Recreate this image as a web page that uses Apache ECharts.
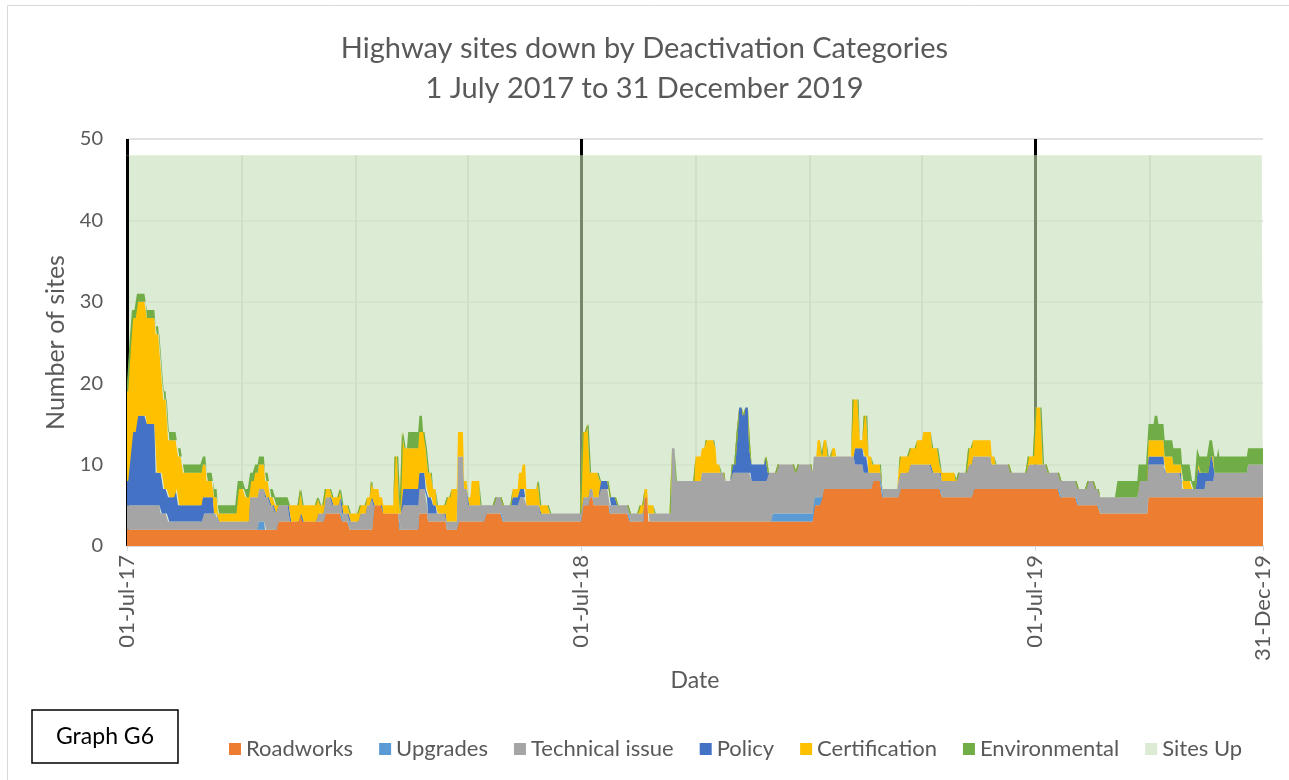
<!DOCTYPE html>
<html>
<head>
<meta charset="utf-8">
<style>
  html, body { margin: 0; background: #fff; }
  #chart { width: 1289px; height: 780px; }
</style>
</head>
<body>
<div id="chart"></div>
<script src="https://cdn.jsdelivr.net/npm/echarts@6/dist/echarts.min.js"></script>
<script>
var seriesNames = ['Roadworks', 'Upgrades', 'Technical issue', 'Policy', 'Certification', 'Environmental', 'Sites Up'];
var colors = ['#ed7d31', '#5b9bd5', '#a5a5a5', '#4472c4', '#ffc000', '#70ad47', '#dcebd3'];
var totalSites = 48;
var lastDay = 913; // 31 Dec 2019, counted in days from 1 Jul 2017
var xTickDays = [0, 365, 730, 913];
var xTickLabels = ['01-Jul-17', '01-Jul-18', '01-Jul-19', '31-Dec-19'];
var quarterDays = [92, 184, 274, 457, 549, 639, 822]; // faint vertical grid lines

// day (from 1 Jul 2017) on which the counts below start to apply
var segStart = [0,2,4,8,16,23,27,29,33,39, 41,45,61,64,70,73,89,95,99,103,
  106,111,115,119,121,131,139,141,153,155, 159,165,171,173,179,187,193,196,198,203,
  206,215,219,221,223,226,235,238,240,242, 246,249,257,261,266,271,274,277,284,288,
  296,302,310,315,318,321,330,332,340,366, 370,372,375,380,388,394,404,412,416,419,
  424,438,441,457,462,465,473,474,477,481, 486,490,492,495,497,500,502,513,515,519,
  523,537,539,551,552,555,558,560,563,567, 570,583,585,589,592,596,599,607,620,621,
  629,635,640,647,653,655,666,668,676,680, 695,698,710,724,730,736,740,750,764,772,
  778,782,796,813,821,826,829,834,841,848, 856,860,862,867,870,874,877,878,901];

var roadworks = [2,2,2,2,2,2,2,2,2,2, 2,2,2,2,2,2,2,2,2,2,
  2,2,2,2,3,3,4,3,3,3, 4,4,4,3,2,2,2,2,5,5,
  4,4,2,2,2,2,4,4,4,3, 3,3,2,2,3,3,3,3,3,4,
  4,3,3,3,3,3,3,3,3,5, 5,6,5,5,4,4,3,3,6,3,
  3,3,3,3,3,3,3,3,3,3, 3,3,3,3,3,3,3,3,3,3,
  3,3,3,3,5,5,6,7,7,7, 7,7,7,7,7,7,8,6,6,7,
  7,7,7,7,7,6,6,6,6,7, 7,7,7,7,7,7,7,6,5,5,
  5,4,4,4,6,6,6,6,6,6, 6,6,6,6,6,6,6,6,6];

var upgrades = [0,0,0,0,0,0,0,0,0,0, 0,0,0,0,0,0,0,0,0,0,
  1,0,0,0,0,0,0,0,0,0, 0,0,0,0,0,0,0,0,0,0,
  0,0,0,0,0,0,0,0,0,0, 0,0,0,0,0,0,0,0,0,0,
  0,0,0,0,0,0,0,0,0,0, 0,0,0,0,0,0,0,0,0,0,
  0,0,0,0,0,0,0,0,0,0, 0,0,0,0,0,0,0,0,0,1,
  1,1,1,1,1,1,0,0,0,0, 0,0,0,0,0,0,0,0,0,0,
  0,0,0,0,0,0,0,0,0,0, 0,0,0,0,0,0,0,0,0,0,
  0,0,0,0,0,0,0,0,0,0, 0,0,0,0,0,0,0,0,0];

var technical = [3,3,3,3,3,3,2,2,1,1, 1,1,2,2,2,1,1,1,4,4,
  4,4,3,2,2,0,0,0,1,1, 2,1,2,1,1,2,3,4,0,0,
  0,0,2,3,3,3,3,3,2,1, 1,1,1,1,8,4,2,2,2,1,
  2,2,2,3,3,2,2,1,1,1, 1,1,1,2,1,1,1,1,0,1,
  1,9,5,5,6,6,6,6,6,5, 6,6,6,6,6,6,5,5,6,5,
  6,5,6,5,5,5,5,4,4,4, 4,4,3,3,2,2,1,1,2,2,
  3,3,3,2,2,2,2,3,4,4, 3,3,2,3,3,3,2,2,2,3,
  2,2,2,4,4,4,4,3,3,1, 1,1,1,2,2,3,3,3,4];

var policy = [3,6,9,11,10,4,5,3,3,4, 2,2,2,2,0,0,0,0,0,0,
  0,0,0,0,0,0,0,0,0,0, 0,0,0,0,0,0,0,0,0,0,
  0,0,0,2,2,2,2,2,1,2, 1,0,0,0,0,0,0,0,0,0,
  0,0,1,1,1,0,0,0,0,0, 0,0,0,1,1,0,0,0,0,0,
  0,0,0,0,0,0,0,0,0,0, 1,5,8,7,8,3,2,3,0,0,
  0,0,0,0,0,0,0,0,0,0, 0,0,2,2,2,0,0,0,0,0,
  0,0,0,0,0,0,0,0,0,0, 0,0,0,0,0,0,0,0,0,0,
  0,0,0,0,1,1,1,0,0,0, 0,3,2,1,3,0,0,0,0];

var certification = [11,13,14,14,13,17,13,11,7,6, 6,4,4,2,2,1,4,3,2,3,
  3,2,1,1,0,2,3,2,2,1, 1,1,1,1,1,1,1,2,2,1,
  1,7,0,7,5,5,5,5,5,3, 2,1,3,4,3,1,1,3,0,0,
  0,0,1,2,3,2,3,1,0,8, 9,2,3,0,0,0,0,1,1,1,
  0,0,0,3,3,4,3,1,0,0, 0,0,0,0,0,0,0,0,0,0,
  0,0,0,0,0,2,0,2,0,1, 0,7,6,1,5,2,1,0,1,2,
  2,3,4,3,1,1,0,0,2,2, 1,0,0,1,7,0,0,0,0,0,
  0,0,0,0,2,2,2,2,1,1, 0,0,0,0,0,0,0,0,0];

var environmental = [1,1,1,1,1,1,1,1,1,1, 1,1,1,1,1,1,1,1,1,1,
  1,1,1,1,1,0,0,0,0,0, 0,0,0,0,0,0,0,0,0,0,
  0,0,0,0,0,2,2,0,0,0, 0,0,0,0,0,0,0,0,0,0,
  0,0,0,0,0,0,0,0,0,0, 0,0,0,0,0,0,0,0,0,0,
  0,0,0,0,0,0,0,0,0,0, 0,0,0,0,0,0,0,0,0,0,
  0,0,0,0,0,0,0,0,0,0, 0,0,0,0,0,0,0,0,0,0,
  0,0,0,0,0,0,0,0,0,0, 0,0,0,0,0,0,0,0,0,0,
  0,0,2,2,2,3,2,2,2,2, 1,2,2,2,2,2,3,2,2];

var FONT = 'Lato, "Open Sans", sans-serif';
var TXT = '#595959';
var MONTHS = ['Jan','Feb','Mar','Apr','May','Jun','Jul','Aug','Sep','Oct','Nov','Dec'];

// one category per calendar day, 1 Jul 2017 .. 31 Dec 2019
var days = [];
for (var d = 0; d <= lastDay; d++) {
  var dt = new Date(2017, 6, 1 + d);
  days.push(('0' + dt.getDate()).slice(-2) + '-' + MONTHS[dt.getMonth()] + '-' + String(dt.getFullYear()).slice(2));
}

// each day holds the count of the segment it falls in
function daily(values) {
  var out = [];
  var k = 0;
  for (var d = 0; d <= lastDay; d++) {
    while (k + 1 < segStart.length && segStart[k + 1] <= d) k++;
    out.push(values[k]);
  }
  return out;
}

var downData = [roadworks, upgrades, technical, policy, certification, environmental];
var series = [];
for (var i = 0; i < downData.length; i++) {
  series.push({
    name: seriesNames[i],
    type: 'line',
    stack: 'down',
    z: 3,
    showSymbol: false,
    symbol: 'none',
    lineStyle: { width: 0 },
    itemStyle: { color: colors[i] },
    areaStyle: { color: colors[i], opacity: 1 },
    data: daily(downData[i])
  });
}

// vertical marker lines: faint quarter lines and the yearly lines
var marks = [];
quarterDays.forEach(function (d) {
  marks.push([{ coord: [days[d], 0], lineStyle: { color: '#cddcc2', width: 1.5, type: 'solid' } },
              { coord: [days[d], totalSites] }]);
});
[0, 365, 730].forEach(function (d) {
  marks.push([{ coord: [days[d], 0], lineStyle: { color: d === 0 ? '#000' : '#76866a', width: 3, type: 'solid' } },
              { coord: [days[d], totalSites] }]);
  marks.push([{ coord: [days[d], totalSites], lineStyle: { color: '#000', width: 3, type: 'solid' } },
              { coord: [days[d], 50] }]);
});

series.push({
  name: seriesNames[6],
  type: 'line',
  z: 1,
  showSymbol: false,
  symbol: 'none',
  lineStyle: { width: 0 },
  itemStyle: { color: colors[6] },
  areaStyle: { color: 'rgba(208,228,196,0.75)', opacity: 1 },
  data: days.map(function () { return totalSites; }),
  markLine: {
    z: 2,
    silent: true,
    symbol: ['none', 'none'],
    label: { show: false },
    animation: false,
    data: marks
  }
});

function isTickDay(index) {
  return xTickDays.indexOf(index) >= 0;
}

var chart = echarts.init(document.getElementById('chart'));
chart.setOption({
  animation: false,
  textStyle: { fontFamily: FONT },
  title: {
    text: 'Highway sites down by Deactivation Categories\n1 July 2017 to 31 December 2019',
    left: 'center',
    top: 24,
    textStyle: { fontFamily: FONT, fontSize: 29, fontWeight: 'normal', color: TXT, lineHeight: 40 }
  },
  legend: {
    data: seriesNames,
    left: 224,
    top: 733,
    icon: 'rect',
    itemWidth: 12,
    itemHeight: 12,
    itemGap: 26,
    textStyle: { fontFamily: FONT, fontSize: 22, color: TXT }
  },
  grid: { left: 127, right: 26, top: 139, bottom: 234, containLabel: false },
  xAxis: {
    type: 'category',
    data: days,
    boundaryGap: false,
    name: 'Date',
    nameLocation: 'middle',
    nameGap: 118,
    nameTextStyle: { fontFamily: FONT, fontSize: 23, color: TXT },
    axisLine: { show: true, lineStyle: { color: '#d9d9d9', width: 1.5 } },
    axisTick: { show: true, interval: function (index) { return isTickDay(index); }, length: 5, lineStyle: { color: '#d9d9d9' } },
    splitLine: { show: false },
    axisLabel: {
      interval: function (index) { return isTickDay(index); },
      rotate: 90,
      margin: 9,
      fontFamily: FONT,
      fontSize: 22,
      color: TXT,
      formatter: function (v, index) {
        var i = xTickDays.indexOf(index);
        return i >= 0 ? xTickLabels[i] : v;
      }
    }
  },
  yAxis: {
    type: 'value',
    min: 0,
    max: 50,
    interval: 10,
    name: 'Number of sites',
    nameLocation: 'middle',
    nameGap: 57,
    nameTextStyle: { fontFamily: FONT, fontSize: 25, color: TXT },
    axisLine: { show: false },
    axisTick: { show: false },
    axisLabel: { fontFamily: FONT, fontSize: 20, color: TXT, margin: 24 },
    splitLine: { lineStyle: { color: '#d9d9d9', width: 1.5 } }
  },
  graphic: [
    { type: 'rect', shape: { x: 7.5, y: 5.5, width: 1300, height: 800 }, style: { fill: 'none', stroke: '#d9d9d9', lineWidth: 1 }, silent: true },
    { type: 'rect', shape: { x: 32, y: 710, width: 146, height: 53 }, style: { fill: '#fff', stroke: '#000', lineWidth: 1.5 } },
    { type: 'text', x: 105, y: 737, style: { text: 'Graph G6', fontFamily: FONT, fontSize: 23, fill: '#000', align: 'center', verticalAlign: 'middle' } }
  ],
  series: series
});
</script>
</body>
</html>
